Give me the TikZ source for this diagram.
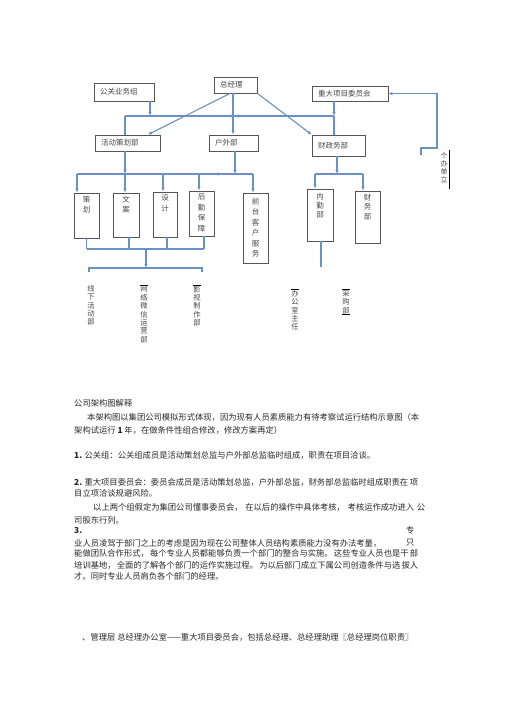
\documentclass[tikz,border=0pt]{standalone}
\usepackage{fontspec}
\setmainfont{Noto Sans CJK SC}
\usetikzlibrary{arrows.meta,decorations.markings}
\XeTeXinterchartokenstate=1
\XeTeXinterchartoks 1 1 = {\hskip 0pt plus 1pt}
\XeTeXinterchartoks 1 2 = {\hskip 0pt plus 1pt}
\XeTeXinterchartoks 1 3 = {\hskip 0pt plus 1pt}
\XeTeXinterchartoks 3 1 = {\hskip 0pt plus 1pt}
\XeTeXinterchartoks 2 1 = {\hskip 0pt plus 1pt}
\XeTeXinterchartoks 3 3 = {\hskip 0pt plus 1pt}
\definecolor{conn}{RGB}{105,145,195}
\definecolor{boxc}{RGB}{85,85,85}
\definecolor{txtc}{RGB}{70,70,70}
\definecolor{bodyc}{RGB}{40,40,40}
\newcommand{\jl}[2]{\hbox to #1{#2}}
\begin{document}
\begin{tikzpicture}[x=1pt,y=-1pt,
  cn/.style={draw=conn,line width=1.1pt},
  ar/.style={cn,-{Latex[length=4pt,width=3.5pt]}},
  hb/.style={draw=boxc,line width=0.9pt,inner xsep=6pt,inner ysep=0pt,align=left,
     font=\fontsize{7.5}{9}\selectfont,text=txtc},
  vb/.style={draw=boxc,line width=0.9pt,inner sep=0pt},
  vt/.style={font=\fontsize{7.5}{10.5}\selectfont,align=center,inner sep=0pt,anchor=north,text=txtc},
  lt/.style={font=\fontsize{7.3}{8.4}\selectfont,align=center,inner sep=0pt,anchor=north,text=txtc},
  barl/.style={draw=black,line width=0.9pt},
  bt/.style={font=\fontsize{8.3}{10}\selectfont,anchor=west,inner sep=0pt,text=bodyc}]
\useasboundingbox (0,0) rectangle (505,714);
% top level boxes
\node[hb,minimum width=43pt,minimum height=16pt,text width=31pt] (gm) at (235.5,85) {总经理};
\node[hb,minimum width=60pt,minimum height=18pt,text width=48pt] (pr) at (124,92) {公关业务组};
\node[hb,minimum width=76pt,minimum height=15pt,text width=64pt] (cm) at (350,93.5) {重大项目委员会};
\node[hb,minimum width=65pt,minimum height=16pt,text width=53pt] (act) at (127.5,143) {活动策划部};
\node[hb,minimum width=49pt,minimum height=16pt,text width=37pt] (out) at (233.5,143) {户外部};
\node[hb,minimum width=53pt,minimum height=21pt,text width=41pt] (fin) at (338.5,145.5) {财政务部};
% second level boxes
\node[vb,minimum width=25pt,minimum height=45pt] (ch) at (86.5,215.5) {};
\node[vb,minimum width=26pt,minimum height=44pt] (wa) at (126,215) {};
\node[vb,minimum width=24pt,minimum height=45pt] (sj) at (165,214.5) {};
\node[vb,minimum width=25pt,minimum height=45pt] (hq) at (201.5,213.5) {};
\node[vb,minimum width=25pt,minimum height=70pt] (qt) at (255.5,228) {};
\node[vb,minimum width=26pt,minimum height=52pt] (nq) at (320,215) {};
\node[vb,minimum width=25pt,minimum height=52pt] (cw) at (367.5,217) {};
\node[vt] (tch) at ([yshift=-3pt]ch.north) {策\\划};
\node[vt] (twa) at ([yshift=-3pt]wa.north) {文\\案};
\node[vt] (tsj) at ([yshift=-3pt]sj.north) {设\\计};
\node[vt] (thq) at ([yshift=-3pt]hq.north) {后\\勤\\保\\障};
\node[vt] (tqt) at ([yshift=-5pt]qt.north) {前\\台\\客\\户\\服\\务};
\node[vt,font=\fontsize{7.5}{9}\selectfont] (tnq) at ([yshift=-4pt]nq.north) {内\\勤\\部};
\node[vt,font=\fontsize{7.5}{9.5}\selectfont] (tcw) at ([yshift=-3pt]cw.north) {财\\务\\部};
% bottom labels
\node[lt] (xx) at (91,285) {线\\下\\活\\动\\部};
\node[lt] (wl) at (144,286) {网\\络\\微\\信\\运\\营\\部};
\node[lt] (ys) at (197,286) {影\\视\\制\\作\\部};
\node[lt] (bg) at (295,290) {办\\公\\室\\主\\任};
\node[lt] (cg) at (346,290) {采\\购\\部};
\draw[barl] ([yshift=1pt,xshift=-0.5pt]wl.north west) -- ([yshift=1pt,xshift=0.5pt]wl.north east);
\draw[barl] ([yshift=1pt,xshift=-0.5pt]ys.north west) -- ([yshift=1pt,xshift=0.5pt]ys.north east);
\draw[barl] ([yshift=1pt,xshift=-0.5pt]bg.north west) -- ([yshift=1pt,xshift=0.5pt]bg.north east);
\draw[barl] ([yshift=1pt,xshift=-0.5pt]cg.north west) -- ([yshift=1pt,xshift=0.5pt]cg.north east);
\draw[barl] ([yshift=-1pt,xshift=-0.5pt]cg.south west) -- ([yshift=-1pt,xshift=0.5pt]cg.south east);
% right side note
\node[lt,font=\fontsize{7}{8}\selectfont] (rt) at (444,152) {个\\办\\单\\立};
\draw[barl] ([xshift=2pt,yshift=2pt]rt.north east) -- ([xshift=2pt,yshift=-6pt]rt.south east);
% coordinates
\coordinate (busL) at (125,116);
\coordinate (busR) at (334,116);
\coordinate (b2L) at (77,174);
\coordinate (b2a) at (125,174);
\coordinate (b2s) at (163,174);
\coordinate (b2h) at (199,174);
\coordinate (b2o) at (235,174);
\coordinate (b2R) at (253,174);
\coordinate (b3) at (337,174);
\coordinate (b3L) at (315,174);
\coordinate (b3R) at (363,174);
\coordinate (m1) at (146,249);
\coordinate (m2) at (146,268);
\coordinate (m2L) at (89,268);
\coordinate (m2R) at (202,268);
\coordinate (nqe) at (321,267);
\coordinate (rb1) at (421,155);
\coordinate (rb2) at (437,148);
% top connectors
\draw[ar] ([xshift=-5.5pt]gm.south) -- ([xshift=20.5pt]act.north);
\draw[ar] ([xshift=-2.5pt]gm.south) -- ([xshift=-0.5pt]out.north);
\draw[ar] (gm.south east) -- (fin.north west);
\draw[cn,postaction={decorate},decoration={markings,
   mark=at position 0.49 with {\arrowreversed[conn]{Latex[length=4pt,width=3.5pt]}},
   mark=at position 0.56 with {\arrow[conn]{Latex[length=4pt,width=3.5pt]}}}] (busL) -- (busR);
\draw[cn] (busL) -- (busL |- act.north);
\draw[ar] ([xshift=26pt]pr.south) -- ([xshift=26pt]pr.south |- busL);
\draw[ar] (cm.south -| busR) -- (busR);
\draw[cn] (busR) -- (busR |- fin.north);
\draw[ar] (rb1) |- (rb2) |- (cm.east);
% second level
\draw[cn,postaction={decorate},decoration={markings,
   mark=at position 0.78 with {\arrowreversed[conn]{Latex[length=4pt,width=3.5pt]}}}] (b2L) -- (b2R);
\draw[ar] (act.south -| b2a) -- (b2a);
\draw[ar] ([xshift=1.5pt]out.south) -- (b2o);
\draw[ar] (b2L) -- (b2L |- ch.north);
\draw[ar] (b2a) -- (b2a |- wa.north);
\draw[ar] (b2s) -- (b2s |- sj.north);
\draw[ar] (b2h) -- (b2h |- hq.north);
\draw[ar] (b2R) -- (b2R |- qt.north);
\draw[ar] (fin.south -| b3) -- (b3);
\draw[cn] (b3L) -- (b3R);
\draw[ar] (b3L) -- (b3L |- nq.north);
\draw[ar] (b3R) -- (b3R |- cw.north);
\draw[cn] ([xshift=1pt]nq.south) -- (nqe);
% merge
\draw[cn] (ch.south) -- (ch.south |- m1);
\draw[cn] ([xshift=3pt]wa.south) -- ([xshift=3pt]wa.south |- m1);
\draw[cn] ([xshift=2pt]sj.south) -- ([xshift=2pt]sj.south |- m1);
\draw[cn] ([xshift=2.5pt]hq.south) -- ([xshift=2.5pt]hq.south |- m1);
\draw[cn] (ch.south |- m1) -- ([xshift=2.5pt]hq.south |- m1);
\draw[ar] (m1) -- (m2);
\draw[cn] ([yshift=-4pt]m2L) -- (m2L) -- (m2R) -- ([yshift=-4pt]m2R);
% body text
\node[bt] (l1) at (74,403) {公司架构图解释};
\node[bt] (l2) at (87,417) {\jl{340pt}{本架构图以集团公司模拟形式体现，因为现有人员素质能力有待考察试运行结构示意图（本}};
\node[bt] (l3) at (74,430) {架构试运行 \textbf{1} 年，在做条件性组合修改，修改方案再定）};
\node[bt] (l4) at (74,455) {\textbf{1.} 公关组：公关组成员是活动策划总监与户外部总监临时组成，职责在项目洽谈。};
\node[bt] (l5) at (74,482) {\jl{344pt}{\textbf{2.} 重大项目委员会：委员会成员是活动策划总监，户外部总监，财务部总监临时组成职责在 项}};
\node[bt] (l6) at (74,493) {目立项洽谈规避风险。};
\node[bt] (l7) at (93,507) {\jl{332pt}{以上两个组假定为集团公司懂事委员会， 在以后的操作中具体考核， 考核运作成功进入 公}};
\node[bt] (l8) at (74,520) {司股东行列。};
\node[bt] (l9) at (74,530) {\textbf{3.}};
\node[bt] (l9b) at (406,530) {专};
\node[bt] (l10) at (74,543) {业人员凌驾于部门之上的考虑是因为现在公司整体人员结构素质能力没有办法考量，};
\node[bt] (l10b) at (406,543) {只};
\node[bt] (l11) at (74,553) {\jl{339pt}{能做团队合作形式， 每个专业人员都能够负责一个部门的整合与实施。 这些专业人员也是干 部}};
\node[bt] (l12) at (74,565) {\jl{339pt}{培训基地， 全面的了解各个部门的运作实施过程。 为以后部门成立下属公司创造条件与选 拔人}};
\node[bt] (l13) at (74,576) {才。同时专业人员肩负各个部门的经理。};
\node[bt] (l14) at (82,637) {、管理层 总经理办公室——重大项目委员会，包括总经理、总经理助理〖总经理岗位职责〗};
\end{tikzpicture}
\end{document}
